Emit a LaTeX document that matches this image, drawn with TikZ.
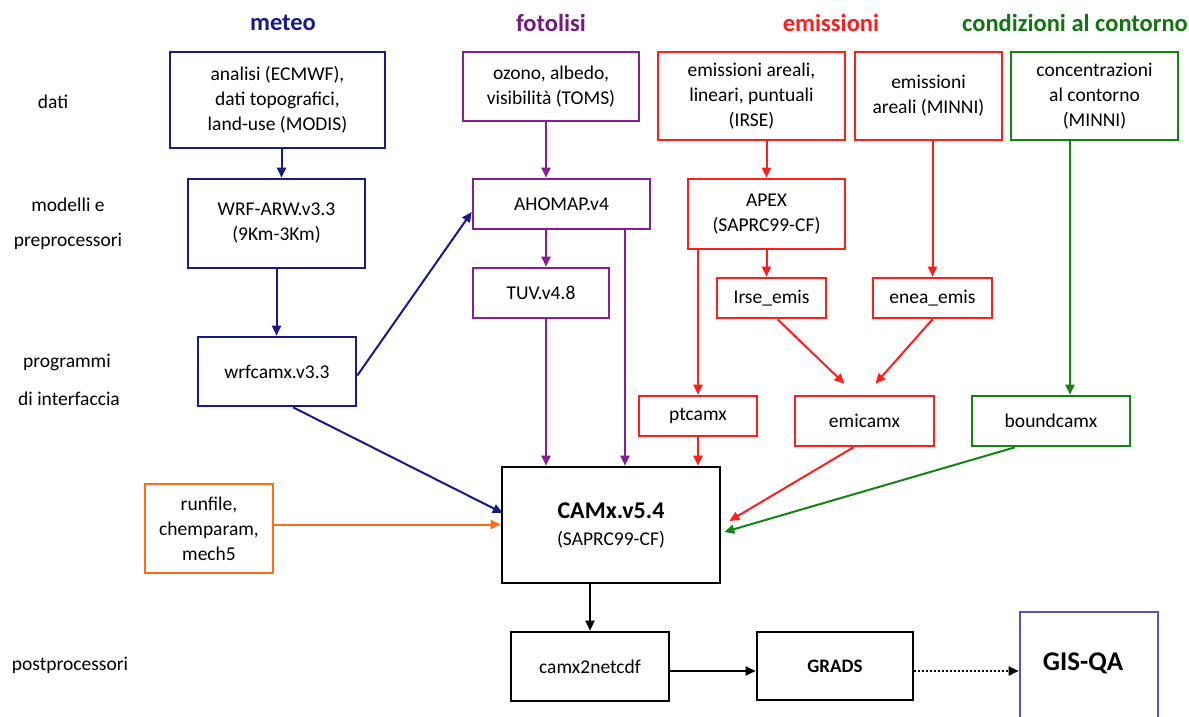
\documentclass[tikz,border=0pt]{standalone}
\usepackage{fontspec}
\setmainfont{Carlito}
\usetikzlibrary{arrows.meta}
\definecolor{cnavy}{RGB}{25,25,135}
\definecolor{cpurp}{RGB}{135,30,150}
\definecolor{cred}{RGB}{255,30,30}
\definecolor{cgreen}{RGB}{20,130,20}
\definecolor{corange}{RGB}{255,110,20}
\definecolor{cgis}{RGB}{85,85,185}
\newcommand{\fsbody}{\fontsize{19.5}{25}\selectfont}
\tikzset{
  boxn/.style={draw, line width=2.6pt, inner sep=0pt, align=center, font=\fsbody},
  hdr/.style={font=\fontsize{24.5}{28}\selectfont\bfseries},
  lbl/.style={font=\fsbody},
  arr/.style={line width=2pt, -{Triangle[length=10pt,width=9pt]}},
}
\begin{document}
\begin{tikzpicture}[x=1pt,y=-1pt]
\useasboundingbox (0,0) rectangle (1189,717);
\clip (0,0) rectangle (1189,717);
\fill[white] (0,0) rectangle (1189,717);

% headers
\node[hdr, text=cnavy] (hmet) at (283,23) {meteo};
\node[hdr, text=cpurp!85!black] (hfot) at (551,23) {fotolisi};
\node[hdr, text=cred] (hemi) at (831,23) {emissioni};
\node[hdr, text=cgreen!90!black] (hcc) at (1075,23) {condizioni al contorno};

% left labels
\node[lbl] (ldati) at (53,102) {dati};
\node[lbl] (lmod1) at (68,205) {modelli e};
\node[lbl] (lmod2) at (68,241) {preprocessori};
\node[lbl] (lprog1) at (67,362) {programmi};
\node[lbl] (lprog2) at (69,399) {di interfaccia};
\node[lbl] (lpost) at (70,665) {postprocessori};

% meteo
\node[boxn, draw=cnavy, minimum width=215pt, minimum height=96pt] (met) at (277.5,100) {analisi (ECMWF),\\dati topografici,\\land-use (MODIS)};
\node[boxn, draw=cnavy, minimum width=177pt, minimum height=89pt] (wrf) at (276.5,223.5) {WRF-ARW.v3.3\\(9Km-3Km)};
\node[boxn, draw=cnavy, minimum width=158pt, minimum height=69pt] (wrfc) at (277,371.5) {wrfcamx.v3.3};

% fotolisi
\node[boxn, draw=cpurp, minimum width=176pt, minimum height=69pt] (fot) at (551,86.5) {ozono, albedo,\\visibilità (TOMS)};
\node[boxn, draw=cpurp, minimum width=177pt, minimum height=50pt] (aho) at (561.5,204) {AHOMAP.v4};
\node[boxn, draw=cpurp, minimum width=136pt, minimum height=50pt] (tuv) at (541,293) {TUV.v4.8};

% emissioni
\node[boxn, draw=cred, minimum width=187pt, minimum height=88pt] (em1) at (751.5,96) {emissioni areali,\\lineari, puntuali\\(IRSE)};
\node[boxn, draw=cred, minimum width=147pt, minimum height=88pt] (em2) at (928.5,96) {emissioni\\areali (MINNI)};
\node[boxn, draw=cred, minimum width=157pt, minimum height=70pt] (apex) at (766.5,214) {APEX\\(SAPRC99-CF)};
\node[boxn, draw=cred, minimum width=109pt, minimum height=40pt] (irse) at (771.5,298) {Irse\_emis};
\node[boxn, draw=cred, minimum width=119pt, minimum height=40pt] (enea) at (932.5,298) {enea\_emis};
\node[boxn, draw=cred, minimum width=118pt, minimum height=40pt] (pt) at (698,416) {ptcamx};
\node[boxn, draw=cred, minimum width=139pt, minimum height=50pt] (emic) at (864.5,421) {emicamx};

% condizioni al contorno
\node[boxn, draw=cgreen, minimum width=167pt, minimum height=88pt] (cc) at (1094.5,96) {concentrazioni\\al contorno\\(MINNI)};
\node[boxn, draw=cgreen, minimum width=158pt, minimum height=50pt] (bound) at (1051,421) {boundcamx};

% run
\node[boxn, draw=corange, minimum width=128pt, minimum height=89pt] (run) at (209,528.5) {runfile,\\chemparam,\\mech5};

% CAMx
\node[boxn, draw=black, minimum width=218pt, minimum height=116pt] (camx) at (611,525) {{\fontsize{24}{28}\selectfont\bfseries CAMx.v5.4}\\[2pt](SAPRC99-CF)};

% post
\node[boxn, draw=black, minimum width=158pt, minimum height=69pt] (netcdf) at (590,666.5) {camx2netcdf};
\node[boxn, draw=black, minimum width=156pt, minimum height=68pt, font=\fontsize{19}{22}\selectfont\bfseries] (grads) at (835,666) {GRADS};
\node[boxn, draw=cgis, minimum width=138pt, minimum height=130pt] (gis) at (1089,677) {};
\node[font=\fontsize{27}{30}\selectfont\bfseries] (gistext) at (1083,663) {GIS-QA};

% arrows meteo
\draw[arr, cnavy] ([xshift=5pt]wrf.north |- met.south) -- ([xshift=5pt]wrf.north);
\draw[arr, cnavy] (wrf.south) -- (wrf.south |- wrfc.north);
\draw[arr, cnavy] ([yshift=-4pt]wrfc.east) -- ([yshift=-8pt]aho.west);
\draw[arr, cnavy] ([xshift=16pt]wrfc.south) -- ([xshift=2pt,yshift=12pt]camx.west);

% arrows fotolisi
\draw[arr, cpurp] ([xshift=5pt]tuv.north |- fot.south) -- ([xshift=5pt]tuv.north |- aho.north);
\draw[arr, cpurp] ([xshift=5pt]tuv.north |- aho.south) -- ([xshift=5pt]tuv.north);
\draw[arr, cpurp] ([xshift=5pt]tuv.south) -- ([xshift=5pt]tuv.south |- camx.north);
\draw[arr, cpurp] ([xshift=63.5pt]aho.south) -- ([xshift=63.5pt]aho.south |- camx.north);

% arrows emissioni
\draw[arr, cred] (apex.north |- em1.south) -- (apex.north);
\draw[arr, cred] (apex.south) -- (apex.south |- irse.north);
\draw[arr, cred] (pt.north |- apex.south) -- (pt.north);
\draw[arr, cred] (pt.south) -- (pt.south |- camx.north);
\draw[arr, cred] (enea.north |- em2.south) -- (enea.north);
\draw[arr, cred] ([xshift=6pt]irse.south) -- ([xshift=-20pt,yshift=11pt]emic.north);
\draw[arr, cred] (enea.south) -- ([xshift=11pt,yshift=11pt]emic.north);
\draw[arr, cred] ([xshift=-11pt]emic.south) -- ([xshift=8pt,yshift=4pt]camx.east);

% arrows condizioni
\draw[arr, cgreen] ([xshift=19pt]bound.north |- cc.south) -- ([xshift=19pt]bound.north);
\draw[arr, cgreen] ([xshift=-36pt]bound.south) -- ([xshift=3pt,yshift=-7pt]camx.east);

% run
\draw[arr, corange] ([yshift=4pt]run.east) -- ([yshift=4pt]run.east -| camx.west);

% post
\draw[arr, black] (netcdf.north |- camx.south) -- (netcdf.north);
\draw[arr, black] ([yshift=-4.5pt]netcdf.east) -- ([yshift=-4.5pt]netcdf.east -| grads.west);
\draw[line width=2pt, black, dash pattern=on 2pt off 2pt, -{Triangle[length=10pt,width=9pt]}] ([yshift=-5pt]grads.east) -- ([yshift=-5pt]grads.east -| gis.west);
\end{tikzpicture}
\end{document}
